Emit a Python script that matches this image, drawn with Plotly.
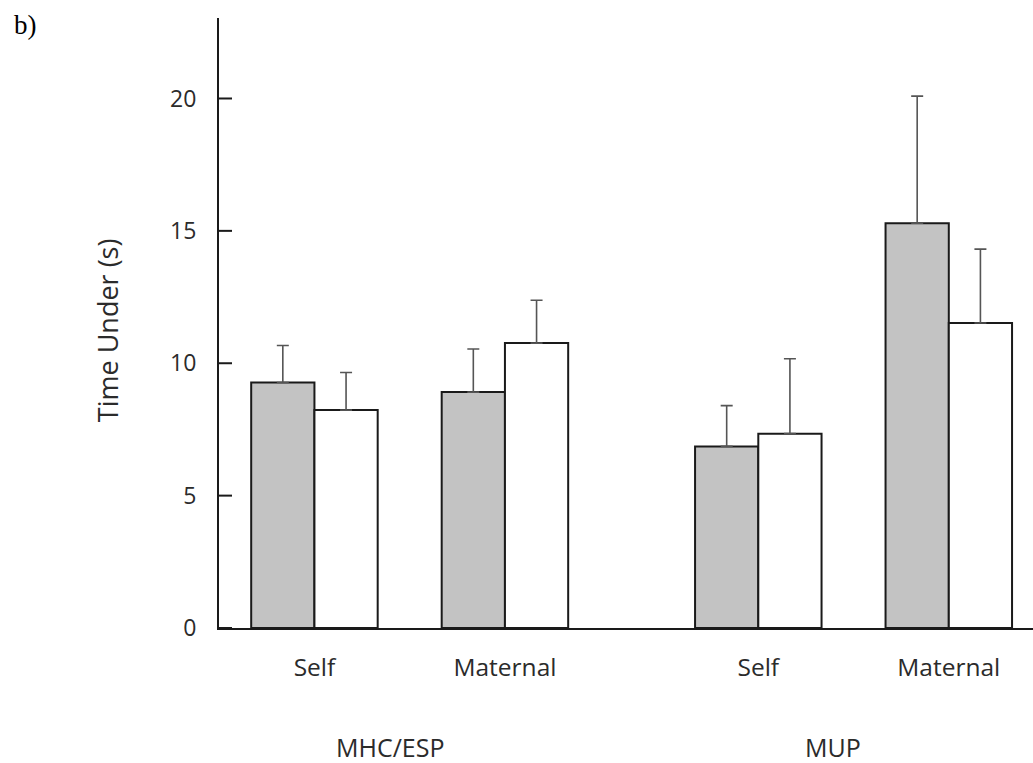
import plotly.graph_objects as go

# ---- data ----
conditions = ["Self", "Maternal"]
groups = ["MHC/ESP", "MUP"]
grey_means = [9.27, 8.91, 6.86, 15.29]
grey_err = [1.40, 1.63, 1.54, 4.80]
white_means = [8.23, 10.76, 7.34, 11.52]
white_err = [1.42, 1.62, 2.83, 2.79]
y_ticks = [0, 5, 10, 15, 20]

# category positions: conditions within a group 1 apart, groups separated by a wider gap
group_gap = 2.33
positions = [g * group_gap + c for g in range(len(groups)) for c in range(len(conditions))]
tick_text = [c for g in groups for c in conditions]
bw = 0.332
y_range = [0, 23.04]

FONT = "Open Sans"
TXT = "#2b2b2b"

fig = go.Figure()
fig.add_trace(go.Bar(
    x=positions, y=grey_means, width=bw, offset=-bw,
    marker=dict(color="#c3c3c3", line=dict(color="#1a1a1a", width=2)),
    error_y=dict(type="data", array=grey_err, arrayminus=[0] * 4, symmetric=False,
                 color="#555555", thickness=1.6, width=6),
    showlegend=False, hoverinfo="skip"))
fig.add_trace(go.Bar(
    x=positions, y=white_means, width=bw, offset=0,
    marker=dict(color="#ffffff", line=dict(color="#1a1a1a", width=2)),
    error_y=dict(type="data", array=white_err, arrayminus=[0] * 4, symmetric=False,
                 color="#555555", thickness=1.6, width=6),
    showlegend=False, hoverinfo="skip"))

fig.update_layout(
    template="none",
    width=1033, height=763,
    margin=dict(l=219, r=0, t=18, b=135),
    paper_bgcolor="white", plot_bgcolor="white",
    barmode="overlay",
    font=dict(family=FONT, color=TXT, size=24),
    xaxis=dict(range=[-0.501, 3.772], tickvals=positions, ticktext=tick_text,
               showline=True, linecolor="#1a1a1a", linewidth=2, ticks="",
               showgrid=False, zeroline=False, ticklabelstandoff=17,
               tickfont=dict(size=24.5, family=FONT, color=TXT)),
    # y axis: line + labels (transparent outside ticks only push labels away)
    yaxis=dict(range=y_range, tickmode="array", tickvals=y_ticks, showline=True,
               linecolor="#1a1a1a", linewidth=2, ticks="outside", ticklen=16,
               tickwidth=1, tickcolor="rgba(0,0,0,0)", showgrid=False, zeroline=False,
               tickfont=dict(size=23, family=FONT, color=TXT)),
)

# inward-pointing y tick marks, one per y tick value
tick_len_frac = 13 / 814
for t in y_ticks:
    fig.add_shape(type="line", xref="x domain", yref="y", x0=0, x1=tick_len_frac,
                  y0=t, y1=t, line=dict(color="#1a1a1a", width=2), layer="above")

# group labels
group_label_x = [0.396, 2.72]
for gx, name in zip(group_label_x, groups):
    fig.add_annotation(x=gx, y=-0.195, xref="x", yref="paper", text=name,
                       showarrow=False, xanchor="center", yanchor="middle",
                       font=dict(size=25, family=FONT, color=TXT))

# y axis title
fig.add_annotation(x=-0.137, y=0.489, xref="paper", yref="paper", text="Time Under (s)",
                   textangle=-90, showarrow=False, xanchor="center", yanchor="middle",
                   font=dict(size=27, family=FONT, color=TXT))

# panel label
fig.add_annotation(x=(12 - 219) / 814, y=1 + (18 - 25) / 610, xref="paper", yref="paper",
                   text="b)", showarrow=False, xanchor="left", yanchor="middle",
                   font=dict(size=27, family="Liberation Serif", color="black"))

fig.write_html("out.html", config={"displayModeBar": False},
               post_script="document.body.style.margin='0';document.body.style.overflow='hidden';")
